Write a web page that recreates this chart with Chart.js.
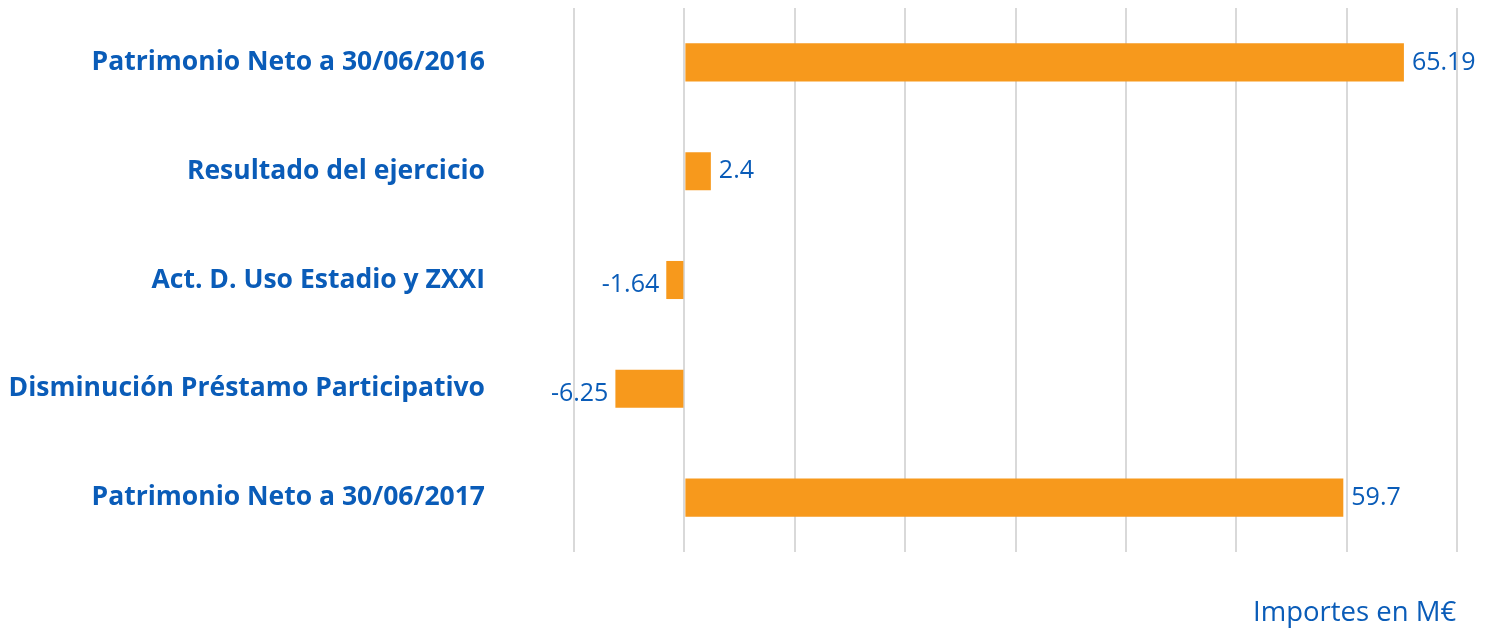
<!DOCTYPE html>
<html>
<head>
<meta charset="utf-8">
<script src="https://cdn.jsdelivr.net/npm/chart.js@4.4.0/dist/chart.umd.min.js"></script>
<style>
  html, body { margin: 0; padding: 0; background: #fff; }
  #wrap { position: relative; width: 1494px; height: 629px; }
  #note {
    position: absolute; left: 1253px; top: 593px; line-height: 36px;
    font-family: "Open Sans", sans-serif; font-size: 27.5px; color: #0a5cb8;
  }
</style>
</head>
<body>
<div id="wrap">
  <canvas id="chart" width="1494" height="629"></canvas>
  <div id="note">Importes en M€</div>
</div>
<script>
const categories = [
  'Patrimonio Neto a 30/06/2016',
  'Resultado del ejercicio',
  'Act. D. Uso Estadio y ZXXI',
  'Disminución Préstamo Participativo',
  'Patrimonio Neto a 30/06/2017'
];
const amounts = [65.19, 2.4, -1.64, -6.25, 59.7];
const labelText = ['65.19', '2.4', '-1.64', '-6.25', '59.7'];

const blue = '#0a5cb8';
const orange = '#f7991c';

// draws the value next to each bar end
const valueLabels = {
  id: 'valueLabels',
  afterDatasetsDraw(chart) {
    const ctx = chart.ctx;
    const meta = chart.getDatasetMeta(0);
    ctx.save();
    ctx.font = '25px "Open Sans", sans-serif';
    ctx.fillStyle = blue;
    ctx.textBaseline = 'middle';
    meta.data.forEach((bar, i) => {
      const v = amounts[i];
      if (v >= 0) {
        ctx.textAlign = 'left';
        ctx.fillText(labelText[i], bar.x + 8, bar.y);
      } else {
        ctx.textAlign = 'right';
        ctx.fillText(labelText[i], bar.x - 7, bar.y + 5);
      }
    });
    ctx.restore();
  }
};

new Chart(document.getElementById('chart'), {
  type: 'bar',
  data: {
    labels: categories,
    datasets: [{
      data: amounts,
      backgroundColor: orange,
      borderWidth: 0,
      categoryPercentage: 1,
      barPercentage: 0.35
    }]
  },
  options: {
    indexAxis: 'y',
    responsive: false,
    animation: false,
    layout: { padding: { top: 8, bottom: 77, right: 37, left: 0 } },
    plugins: { legend: { display: false }, tooltip: { enabled: false } },
    scales: {
      x: {
        min: -10,
        max: 70,
        ticks: { stepSize: 10, display: false },
        grid: { color: '#d9d9d9', lineWidth: 2, drawTicks: false },
        border: { display: false }
      },
      y: {
        ticks: {
          color: blue,
          padding: 89,
          font: { family: '"Open Sans", sans-serif', size: 26.5, weight: 'bold' }
        },
        grid: { display: false, drawTicks: false },
        border: { display: false },
        afterFit(scale) {
          scale.width = 574;
          // tick padding would otherwise push the plot area in vertically
          scale.paddingTop = 0;
          scale.paddingBottom = 0;
        }
      }
    }
  },
  plugins: [valueLabels]
});
</script>
</body>
</html>
